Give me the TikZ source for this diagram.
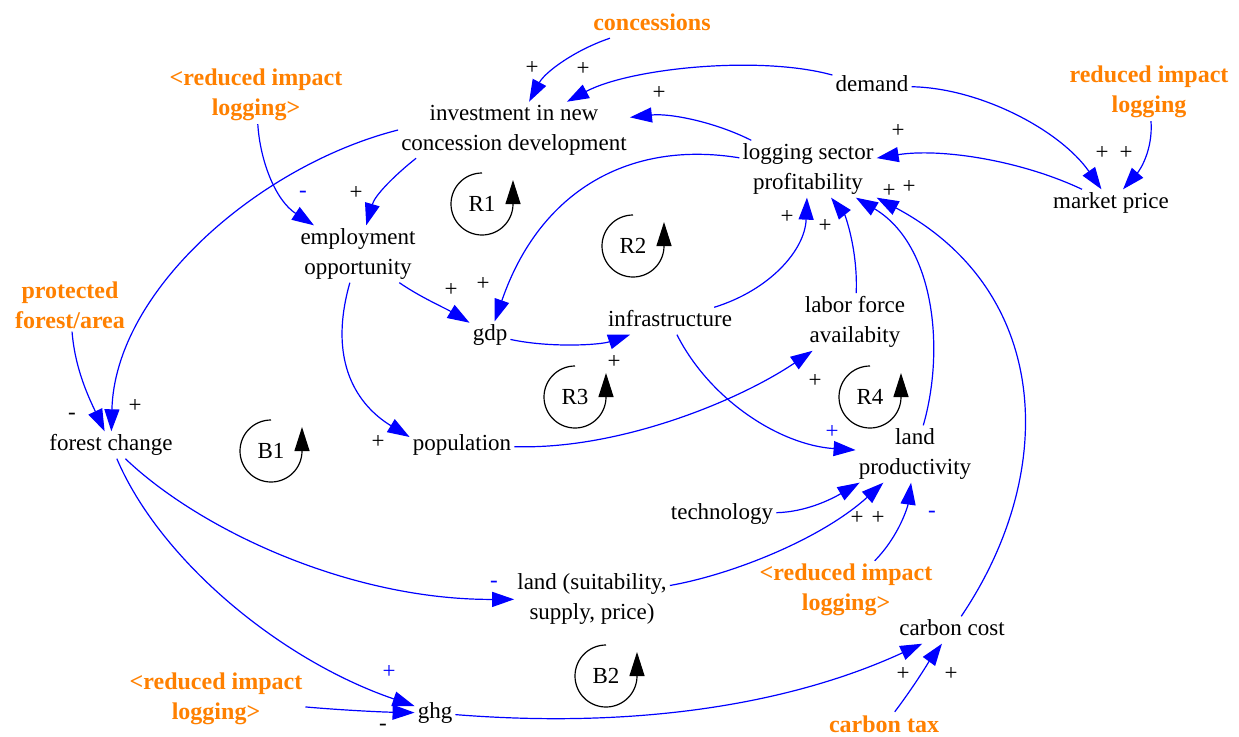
\documentclass[tikz,border=0pt]{standalone}
\usepackage{fontspec}
\setmainfont{Liberation Serif}
\usetikzlibrary{arrows.meta}
\definecolor{vorange}{RGB}{255,128,0}
\definecolor{vblue}{RGB}{0,0,255}
\tikzset{
  var/.style={font=\fontsize{23}{30}\selectfont, inner sep=3pt, yshift=-2pt},
  one/.style={var, text height=16pt, text depth=5pt},
  multi/.style={var, align=center},
  ext/.style={font=\fontsize{24}{30}\selectfont\bfseries, text=vorange, inner sep=3pt, align=center, yshift=-2pt},
  extone/.style={font=\fontsize{24}{30}\selectfont\bfseries, text=vorange, inner sep=3pt, text height=17pt, text depth=5pt, yshift=-2pt},
  link/.style={vblue, line width=1.2pt, -{Triangle[length=22pt,width=15pt]}},
  pol/.style={font=\fontsize{23}{30}\selectfont, inner sep=0pt},
  polb/.style={pol, text=vblue},
  looplab/.style={font=\fontsize{23}{30}\selectfont, inner sep=0pt},
  loopc/.style={black, line width=1.2pt, -{Triangle[length=24pt,width=15pt]}},
}
\begin{document}
\begin{tikzpicture}[x=1pt,y=-1pt]
\useasboundingbox (0,0) rectangle (1239,736);
% variables
\node[extone] (conc) at (652,22) {concessions};
\node[multi] (inv) at (514,128) {investment in new\\concession development};
\node[one] (dem) at (872,84) {demand};
\node[ext] (ril1) at (1149,90) {reduced impact\\logging};
\node[ext] (ril2) at (256,93) {<reduced impact\\logging>};
\node[multi] (lsp) at (808,167) {logging sector\\profitability};
\node[one] (mp) at (1111,201) {market price};
\node[multi] (emp) at (358,252) {employment\\opportunity};
\node[ext] (pfa) at (70,303) {protected\\forest/area};
\node[one] (gdp) at (490,333) {gdp};
\node[one] (infra) at (670,319) {infrastructure};
\node[multi] (lfa) at (855,320) {labor force\\availabity};
\node[one] (fc) at (111,443) {forest change};
\node[one] (pop) at (462,443) {population};
\node[multi] (lp) at (915,452) {land\\productivity};
\node[one] (tech) at (722,512) {technology};
\node[multi] (land) at (592,597) {land (suitability,\\supply, price)};
\node[ext] (ril3) at (846,588) {<reduced impact\\logging>};
\node[one] (cc) at (952,628) {carbon cost};
\node[ext] (ril4) at (216,697) {<reduced impact\\logging>};
\node[one] (ghg) at (435,711) {ghg};
\node[extone] (ctax) at (884,724) {carbon tax};
% links
\draw[link] (conc) .. controls (575,50) and (545,72) .. (inv);
\draw[link] (dem) .. controls (760,55) and (630,68) .. (inv);
\draw[link] (lsp) .. controls (715,122) and (670,113) .. (inv);
\draw[link] (lsp) .. controls (630,140) and (540,190) .. (gdp);
\draw[link] (mp) .. controls (1020,160) and (940,148) .. (lsp);
\draw[link] (dem) .. controls (980,88) and (1060,130) .. (mp);
\draw[link] (ril1) .. controls (1153,150) and (1140,170) .. (mp);
\draw[link] ([xshift=18pt]inv.south west) .. controls (395,175) and (375,195) .. (emp);
\draw[link] (ril2) .. controls (260,160) and (275,200) .. (emp);
\draw[link] (inv.west) .. controls (260,165) and (115,290) .. (fc);
\draw[link] (pfa) .. controls (75,370) and (90,400) .. (fc);
\draw[link] (emp) .. controls (420,297) and (445,308) .. (gdp);
\draw[link] (emp) .. controls (325,370) and (365,410) .. ([yshift=8pt]pop.west);
\draw[link] (gdp) .. controls (550,348) and (600,345) .. (infra);
\draw[link] (infra) .. controls (770,290) and (805,250) .. (lsp);
\draw[link] (lfa) .. controls (858,250) and (845,215) .. (lsp);
\draw[link] (lp) .. controls (945,350) and (935,245) .. (lsp);
\draw[link] (cc) .. controls (1060,470) and (1050,290) .. (lsp.south east);
\draw[link] (infra) .. controls (710,400) and (780,445) .. (lp);
\draw[link] (pop) .. controls (620,450) and (740,400) .. (lfa);
\draw[link] (tech) .. controls (805,512) and (830,500) .. ([xshift=4pt]lp.south west);
\draw[link] (land) .. controls (730,575) and (820,540) .. (lp);
\draw[link] (ril3) .. controls (900,535) and (908,505) .. (lp);
\draw[link] (fc) .. controls (200,530) and (350,600) .. (land);
\draw[link] (fc) .. controls (160,560) and (280,660) .. (ghg);
\draw[link] (ril4) .. controls (340,710) and (380,712) .. (ghg);
\draw[link] (ghg) .. controls (650,730) and (800,700) .. (cc);
\draw[link] (ctax) .. controls (915,685) and (930,660) .. (cc);
% polarities
\node[pol] (s1) at (532,68) {+};
\node[pol] (s2) at (583,69) {+};
\node[pol] (s3) at (659,93) {+};
\node[pol] (s4) at (898,131) {+};
\node[pol] (s5) at (1102,153) {+};
\node[pol] (s6) at (1126,153) {+};
\node[pol] (s7) at (356,193) {+};
\node[polb] (s8) at (303,194) {-};
\node[pol] (s9) at (483,284) {+};
\node[pol] (s10) at (451,290) {+};
\node[pol] (s11) at (135,406) {+};
\node[pol] (s12) at (72,416) {-};
\node[pol] (s13) at (378,442) {+};
\node[pol] (s14) at (614,362) {+};
\node[pol] (s15) at (787,217) {+};
\node[pol] (s16) at (825,226) {+};
\node[pol] (s17) at (889,191) {+};
\node[pol] (s18) at (909,187) {+};
\node[pol] (s19) at (815,381) {+};
\node[polb] (s20) at (832,432) {+};
\node[pol] (s21) at (857,518) {+};
\node[pol] (s22) at (878,518) {+};
\node[polb] (s23) at (932,514) {-};
\node[polb] (s24) at (494,584) {-};
\node[polb] (s25) at (389,672) {+};
\node[pol] (s26) at (383,727) {-};
\node[pol] (s27) at (903,674) {+};
\node[pol] (s28) at (951,674) {+};
% loops
\node[looplab] (r1) at (482,204) {R1};
\draw[loopc] ([yshift=31pt]r1.center) arc[start angle=270,end angle=0,radius=31] -- ++(0,-24);
\node[looplab] (r2) at (633,246) {R2};
\draw[loopc] ([yshift=31pt]r2.center) arc[start angle=270,end angle=0,radius=31] -- ++(0,-24);
\node[looplab] (r3) at (575,397) {R3};
\draw[loopc] ([yshift=31pt]r3.center) arc[start angle=270,end angle=0,radius=31] -- ++(0,-24);
\node[looplab] (r4) at (870,397) {R4};
\draw[loopc] ([yshift=31pt]r4.center) arc[start angle=270,end angle=0,radius=31] -- ++(0,-24);
\node[looplab] (b1) at (271,451) {B1};
\draw[loopc] ([yshift=31pt]b1.center) arc[start angle=270,end angle=0,radius=31] -- ++(0,-24);
\node[looplab] (b2) at (606,676) {B2};
\draw[loopc] ([yshift=31pt]b2.center) arc[start angle=270,end angle=0,radius=31] -- ++(0,-24);
\end{tikzpicture}
\end{document}
